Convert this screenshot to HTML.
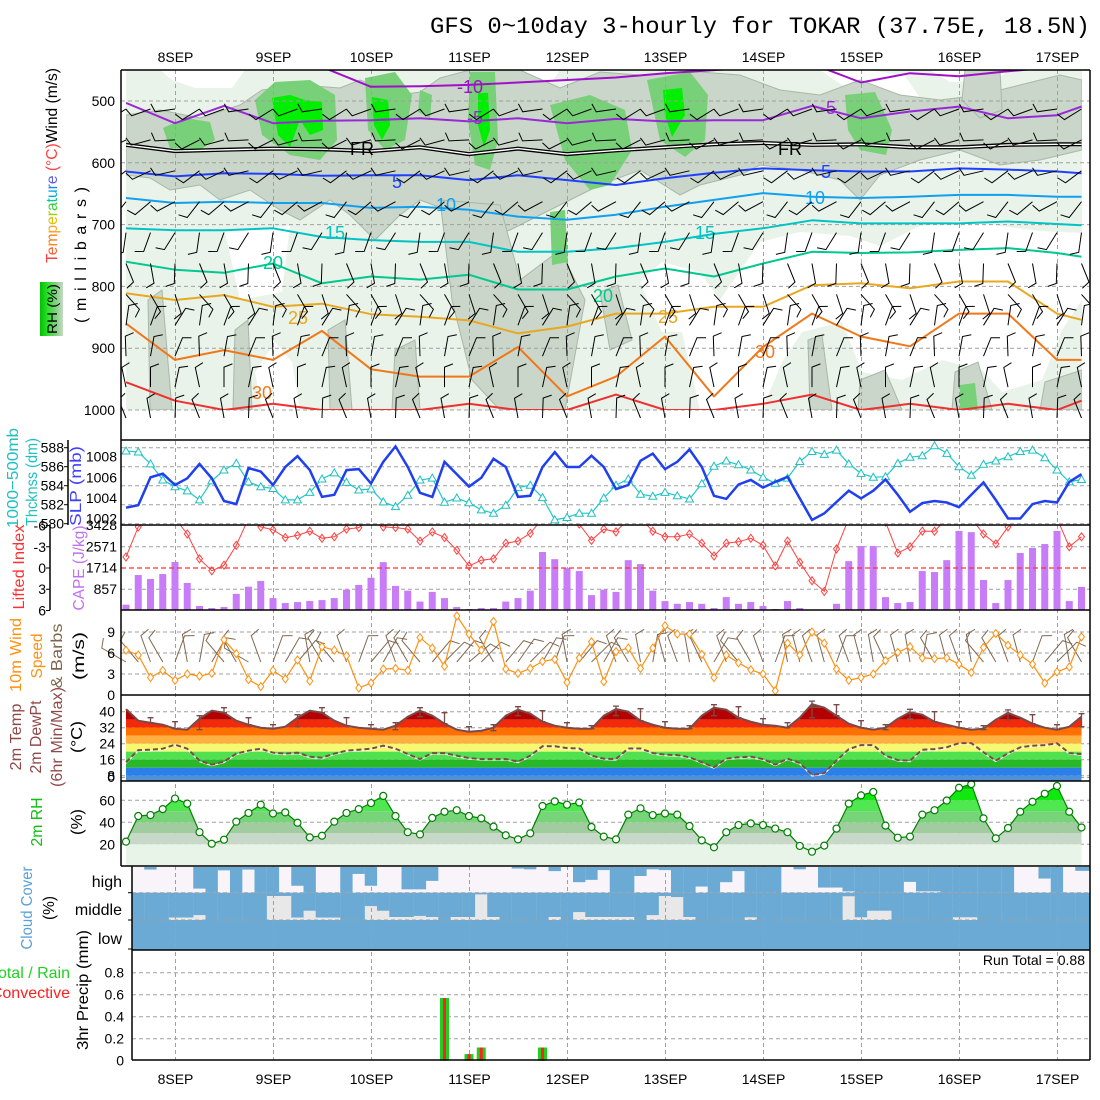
<!DOCTYPE html>
<html><head><meta charset="utf-8">
<style>
body{margin:0;background:#fff}
svg{display:block;font-family:"Liberation Sans",sans-serif}
</style></head>
<body>
<svg id="c" width="1100" height="1100" viewBox="0 0 1100 1100">
<defs>
<clipPath id="clipTop"><rect x="126" y="70" width="956" height="340"/></clipPath>
<clipPath id="clipTopB"><rect x="121" y="70" width="969" height="370"/></clipPath>
<clipPath id="clipLI"><rect x="121" y="525" width="969" height="85"/></clipPath>
<clipPath id="clipTh"><rect x="121" y="440" width="969" height="85"/></clipPath>
<linearGradient id="rhg" x1="0" x2="1" y1="0" y2="0"><stop offset="0" stop-color="#00c000"/><stop offset="0.35" stop-color="#30e030"/><stop offset="0.65" stop-color="#78d078"/><stop offset="1" stop-color="#c8d8c8"/></linearGradient>
</defs>
<rect x="0" y="0" width="1100" height="1100" fill="#fff"/>
<text x="430" y="33" font-family="Liberation Mono, monospace" font-size="23" textLength="660" lengthAdjust="spacingAndGlyphs">GFS 0~10day 3-hourly for TOKAR (37.75E, 18.5N)</text>
<g id="layer"></g>
<g font-size="16">
<text transform="translate(57,165.5) rotate(-90)" text-anchor="middle" textLength="195" lengthAdjust="spacingAndGlyphs"><tspan fill="#ff4040">T</tspan><tspan fill="#ff6030">e</tspan><tspan fill="#ff8020">m</tspan><tspan fill="#ffa020">p</tspan><tspan fill="#e0c000">e</tspan><tspan fill="#a0d000">r</tspan><tspan fill="#40d040">a</tspan><tspan fill="#00c8a0">t</tspan><tspan fill="#00b0e0">u</tspan><tspan fill="#2080f0">r</tspan><tspan fill="#6060f0">e</tspan><tspan fill="#ff4040"> (°C)</tspan><tspan fill="#000">Wind (m/s)</tspan></text>
<text transform="translate(86,255) rotate(-90)" text-anchor="middle" textLength="136" lengthAdjust="spacing">(millibars)</text>
<rect x="40" y="282" width="23" height="54" fill="url(#rhg)"/>
<text transform="translate(57,309) rotate(-90)" text-anchor="middle" font-size="14" textLength="50" lengthAdjust="spacingAndGlyphs">RH (%)</text>
<text transform="translate(18,478) rotate(-90)" text-anchor="middle" fill="#20c0c0" textLength="100" lengthAdjust="spacingAndGlyphs">1000−500mb</text>
<text transform="translate(37,482) rotate(-90)" text-anchor="middle" fill="#20c0c0" textLength="88" lengthAdjust="spacingAndGlyphs">Thcknss (dm)</text>
<text transform="translate(81,486) rotate(-90)" text-anchor="middle" fill="#4040ff" textLength="80" lengthAdjust="spacingAndGlyphs">SLP (mb)</text>
<text transform="translate(24,567) rotate(-90)" text-anchor="middle" fill="#ff3030" textLength="85" lengthAdjust="spacingAndGlyphs">Lifted Index</text>
<text transform="translate(84,568) rotate(-90)" text-anchor="middle" fill="#c070f0" textLength="85" lengthAdjust="spacingAndGlyphs">CAPE (J/kg)</text>
<text transform="translate(21,655) rotate(-90)" text-anchor="middle" fill="#ff9010" textLength="74" lengthAdjust="spacingAndGlyphs">10m Wind</text>
<text transform="translate(42,656) rotate(-90)" text-anchor="middle" fill="#ff9010" textLength="45" lengthAdjust="spacingAndGlyphs">Speed</text>
<text transform="translate(62,656) rotate(-90)" text-anchor="middle" fill="#806850" textLength="65" lengthAdjust="spacingAndGlyphs">&amp; Barbs</text>
<text transform="translate(84,656) rotate(-90)" text-anchor="middle" textLength="48" lengthAdjust="spacingAndGlyphs">(m/s)</text>
<text transform="translate(21,737) rotate(-90)" text-anchor="middle" fill="#904848" textLength="67" lengthAdjust="spacingAndGlyphs">2m Temp</text>
<text transform="translate(41,737) rotate(-90)" text-anchor="middle" fill="#904848" textLength="73" lengthAdjust="spacingAndGlyphs">2m DewPt</text>
<text transform="translate(62,737) rotate(-90)" text-anchor="middle" fill="#904848" textLength="100" lengthAdjust="spacingAndGlyphs">(6hr Min/Max)</text>
<text transform="translate(82,737) rotate(-90)" text-anchor="middle" textLength="32" lengthAdjust="spacingAndGlyphs">(°C)</text>
<text transform="translate(42,822) rotate(-90)" text-anchor="middle" fill="#10c010" textLength="49" lengthAdjust="spacingAndGlyphs">2m RH</text>
<text transform="translate(82,822) rotate(-90)" text-anchor="middle" textLength="26" lengthAdjust="spacingAndGlyphs">(%)</text>
<text transform="translate(32,908) rotate(-90)" text-anchor="middle" fill="#58a0d8" textLength="83" lengthAdjust="spacingAndGlyphs">Cloud Cover</text>
<text transform="translate(54,908) rotate(-90)" text-anchor="middle" textLength="24" lengthAdjust="spacingAndGlyphs">(%)</text>
<text x="122" y="887" text-anchor="end">high</text>
<text x="122" y="915" text-anchor="end">middle</text>
<text x="122" y="944" text-anchor="end">low</text>
<text x="70" y="978" text-anchor="end" fill="#20d020">Total / Rain</text>
<text x="70" y="998" text-anchor="end" fill="#ff2020">Convective</text>
<text transform="translate(88,990) rotate(-90)" text-anchor="middle" textLength="120" lengthAdjust="spacingAndGlyphs">3hr Precip (mm)</text>
<text x="1085" y="965" text-anchor="end" font-size="14">Run Total = 0.88</text>
</g>
</svg>
<script>
// ---------- data ----------
const dayLabels=["8SEP","9SEP","10SEP","11SEP","12SEP","13SEP","14SEP","15SEP","16SEP","17SEP"];
const pressureTicks=[500,600,700,800,900,1000];
const slp=[1003.05,1003.3,1006.0,1006.35,1005.25,1005.9,1007.3,1005.9,1003.7,1003.4,1006.9,1006.55,1005.25,1007.0,1008.05,1006.7,1004.1,1004.3,1006.7,1006.8,1005.4,1007.5,1009.0,
1007.0,1004.5,1004.1,1007.5,1006.3,1005.1,1005.95,1007.8,1007.0,1004.1,1004.2,1007.0,1008.45,1007.0,1007.0,1008.1,1007.0,1004.85,1005.25,1007.6,1008.3,1006.8,1007.5,1008.7,1007.0,1004.2,1003.9,1005.3,
1005.75,1005.0,1005.55,1006.05,1003.95,1001.85,1002.5,1003.6,1004.7,1003.95,1004.7,1005.8,1004.3,1002.65,1003.5,1003.7,1003.55,1003.1,1004.3,1005.5,1003.8,1002.0,1002.0,1003.4,1003.7,1003.55,1005.55,1006.3];
const thickness=[587.65,587.55,586.3,584.6,583.9,583.45,582.5,584.5,585.65,586.35,584.4,583.9,583.7,582.5,582.5,583.3,584.7,585.35,584.35,583.55,583.65,582.3,581.8,
583.0,584.6,584.8,582.25,582.7,582.2,581.45,581.1,581.95,583.8,584.05,582.75,580.4,580.65,581.1,581.1,582.7,584.05,584.7,583.1,582.9,583.3,582.95,582.6,584.2,586.05,586.6,586.2,
585.65,584.9,584.25,584.8,586.55,587.6,587.3,587.75,586.3,585.3,584.9,584.95,586.35,587.0,587.15,588.2,587.4,586.0,585.1,586.25,586.6,587.05,587.6,587.75,586.95,585.65,584.4,584.65];
const thickTicks=[588,586,584,582,580];
const slpTicks=[1008,1006,1004,1002];
const liftedIndex=[-1.55,-5.8,-7,-7,-7,-4.8,-1.3,0.4,-0.4,-3.2,-7,-5.8,-5.4,-4.3,-4.6,-5.2,-4.2,-4.4,-5.5,-5.7,-7,-5.8,-5.7,
-5.5,-3.8,-5.1,-4.3,-2.5,-0.3,-1.1,-1.3,-3.5,-3.8,-4.9,-7,-7,-7,-6.2,-3.9,-5.5,-5.1,-7,-7,-5.2,-4.4,-4.4,-4.8,-3.5,-1.7,-3.5,-3.7,
-4.2,-3.2,-0.3,-3.8,-0.8,1.8,3.3,-2.7,-7,-7,-7,-6.5,-2.1,-3.0,-5.2,-5.2,-7,-7,-7,-4.8,-3.4,-5.8,-7,-7,-7,-7,-3.0,-4.4];
const cape=[215,1410,1250,1450,1935,1090,160,80,120,650,940,1170,480,280,320,360,400,480,820,1010,1300,1930,970,780,340,730,480,120,40,80,80,340,480,780,2340,2050,1690,1570,600,820,730,2010,1850,780,360,250,320,250,80,520,250,320,160,40,360,80,0,0,250,1970,2580,2580,520,280,320,1570,1530,2010,3190,3140,1210,280,1210,2300,2500,2660,3190,360,930];
const liTicks=[-6,-3,0,3,6];
const capeTicks=["3428","2571","1714","857"];
const windSpeed=[6.4,5.7,2.5,3.5,2.1,3.0,2.7,3.1,7.9,5.9,2.2,1.2,3.5,2.3,5.0,2.0,6.9,6.4,5.6,1.0,1.7,3.7,3.8,
3.5,8.2,6.7,4.1,11.3,8.7,6.4,10.5,3.7,3.1,3.8,4.8,5.1,1.8,5.3,7.6,1.9,6.2,6.7,3.8,6.7,9.9,8.7,8.7,5.8,2.5,5.7,4.6,
3.6,3.0,0.6,7.4,5.7,9.0,7.4,3.7,2.1,2.5,3.0,4.9,6.1,6.9,5.3,5.2,5.3,4.4,3.2,6.8,8.8,7.1,5.7,4.4,1.7,3.3,4.0,8.3];
const windDir10=[300,320,340,330,20,350,10,30,320,330,300,340,20,30,40,350,330,320,340,20,40,30,340,330,320,40,45,40,50,45,330,40,35,45,30,20,350,40,45,30,340,330,350,10,345,340,350,335,30,340,320,330,340,20,350,345,340,345,20,340,345,350,335,345,350,10,330,345,340,350,320,330,340,345,20,40,45,350,330];
const windTicks=[0,3,6,9];
const temp2m=[41.3,35.5,34.5,33.5,31.5,31,36.5,40.5,39.5,35.5,33.5,32,31.5,32.5,37,40.5,39.5,35.5,33,32,31.5,31,33,37.5,40.5,38,34,31,30,30.5,32,38,41,39,35,33,32,31.5,31.5,38,41.3,40,35.5,33.5,32,31.5,31.5,38,42,41,37,35,33.5,33,32,37,43.8,42,38,34,32,31,32,36.5,39.7,38.5,35,33.5,32,31,31.5,36,39.4,37,34,32,31,32.5,37.5];
const dew2m=[14.7,20.8,21,21.5,23.5,21.5,15.5,13.5,15,19,20.5,21.5,19.5,19,19.5,17.5,17,19,20.5,21,21.5,23,21.5,
18.8,16.3,19.3,19.3,18,16.8,16.3,16.3,16.3,15,18,22.7,22.7,21.8,21.6,18,16.5,16.3,21.6,21.6,19.3,18.5,18.3,17.2,14.7,12.2,16.5,17.2,
17.5,16.3,13.5,16.5,14.3,8.3,9.3,15.5,21.3,23.3,23.3,18,15.8,15.5,21,21.3,22.2,24.3,24.3,19.7,15.5,19.2,22.2,23,23.3,24.2,19.3,18.8];
const tempTicks=[40,32,24,16,8];
const rh2m=[22.4,45.7,46.6,52,61.6,57,31,20.5,24.2,40.6,48.5,56,48,49,39.6,26.3,27.8,40.6,48.5,52,57.5,64,45.7,
31,29,44,49.6,51,45.7,43.6,36,28.2,24.5,30,54.8,59,56,58,35.7,27,24.5,47,52.7,46.6,48,47,36.6,23.6,17.3,31,37.5,
39,37.5,34.3,31,18.5,13.3,18.8,34.3,57,64.5,67.6,37,26,27,47,51,59.8,71.4,74.7,43.6,25.4,34.8,49.6,58.7,66,73,49.6,35.3];
const rhTicks=[20,40,60];
const cloudHigh=[0,0.1,0,0,0,0.84,1,0.13,1,0.1,1,1,0,0.73,1,0,0,1,0.27,0.73,0,
0,0.87,0.87,0.54,0,0,0,0,0,0,0.06,0.09,0,0.16,0,0.59,0.5,0.12,1,1,0.35,0.09,0.12,1,1,0.76,1,0.59,0.16,
1,1,1,0,0.09,0,0.8,0.8,0.95,1,1,1,1,0.58,0.95,0.95,1,1,1,1,1,1,0,0,0.45,1,0,0.15,0.15];
const cloudMid=[1,1,1,0.91,0.91,0.82,1,1,1,1,1,0.12,0.12,0.91,0.66,0.91,0.91,1,1,0.49,0.66,
0.89,0.89,0.85,0.89,1,0.89,0.89,0.06,0.89,1,1,1,1,0.89,1,0.71,0.89,0.89,0.89,0.89,1,0.82,0.12,0.16,0.89,1,1,1,1,
0.9,1,1,1,1,1,1,1,0.13,0.9,0.66,0.66,1,1,1,1,1,0.9,0.9,1,1,1,1,1,1,1,1,1,1];
const precipIdx=[26,28,29,34];
const precipTotal=[0.57,0.06,0.12,0.12];
const precipConv=[0.57,0.06,0.12,0.12];
const precipTicks=[0,0.2,0.4,0.6,0.8];
const isoCtrlIdx=[0,4,8,12,16,20,24,28,32,36,40,44,48,52,56,60,64,68,72,76,78];
const isoM10=[440,440,440,440,445,477,476,474,470,466,462,455,450,445,440,470,455,460,452,445,445];
const isoM5=[503,536,508,536,532,531,528,533,528,536,529,533,531,531,508,528,517,509,528,523,509];
const isoFR=[571,581,579,577,578,581,575,586,577,586,580,575,570,568,571,570,575,575,571,570,570];
const iso5=[614,622,617,618,621,620,620,628,620,628,636,625,616,609,612,614,614,609,611,614,617];
const iso10=[657,665,663,665,665,673,671,676,687,692,684,671,660,649,655,657,655,652,652,655,655];
const iso15=[706,709,709,706,720,725,728,728,744,744,738,728,715,706,693,698,698,698,695,699,701];
const iso20=[760,773,778,763,795,784,789,781,805,805,784,771,784,763,744,746,745,741,738,746,752];
const iso25=[811,822,814,833,828,845,849,855,876,865,844,844,833,833,798,795,803,792,792,844,854];
const iso30=[860,919,903,919,872,934,946,946,898,978,946,881,978,898,844,881,897,844,844,919,919];
const iso35=[955,985,1000,990,1000,1000,1000,990,1000,1000,975,1000,1000,990,975,1000,990,1000,990,1000,985];
const barbLevels=[500,550,600,650,700,750,800,850,900,950,1000];
const barbDirs=[250,255,245,230,200,170,150,20,10,0,350];

// ---------- axes ----------
const X=i=>126+12.25*i;
const dayX=d=>175.5+98*d;
const yP=p=>101+(p-500)*0.618;
const yTh=t=>447.7-(t-588)*9.5;
const ySLP=p=>456.7-(p-1008)*10.3;
const yLI=v=>568+v*7.08;
const yCAPE=c=>610-c/40.33;
const yW=v=>695-7*v;
const yT=t=>791.7-2*t;
const yRH=r=>866.3-1.1*r;
const yPr=v=>1060.7-110*v;
const NS='http://www.w3.org/2000/svg';
const L=document.getElementById('layer');
function mk(tag,attrs,parent){const e=document.createElementNS(NS,tag);for(const k in attrs)e.setAttribute(k,attrs[k]);(parent||L).appendChild(e);return e;}
function pts(arr){return arr.map(p=>p[0].toFixed(1)+','+p[1].toFixed(1)).join(' ');}
const N=slp.length;

// ---------- top cross-section fills ----------
const gTop=mk('g',{'clip-path':'url(#clipTop)'});


let e=mk('rect',{x:126,y:70,width:956,height:340,fill:'#e9f3e9'},gTop);


const whiteShapes=[
[[160,70],[245,70],[232,88],[195,88],[172,80]],
[[225,232],[290,226],[282,292],[240,300]],
[[640,282],[662,262],[700,272],[720,300],[760,242],[800,232],[850,236],[880,246],[920,226],[960,221],[1000,226],[1040,231],[1082,233],[1082,300],[1062,330],[1042,380],[1002,392],[982,370],[942,360],[902,380],[862,372],[842,322],[802,332],[782,362],[762,410],[700,410],[682,332],[662,332]],
[[820,70],[870,70],[905,76],[920,98],[880,95],[842,85]],
[[930,70],[1010,70],[995,80],[950,82]],
[[255,372],[275,342],[292,362],[300,410],[262,410]],
[[520,70],[560,70],[552,82],[528,80]]];
whiteShapes.forEach(s=>{const p=mk('polygon',{points:pts(s),fill:'#ffffff'},gTop);

});
const grayShapes=[
[[126,115],[160,110],[200,118],[240,105],[262,90],[300,85],[340,88],[360,80],[400,95],[420,92],[440,78],[470,70],[520,70],[560,88],[600,72],[640,75],[700,72],[740,75],[780,90],[820,95],[860,80],[900,95],[940,100],[980,95],[1020,85],[1060,75],[1082,80],[1082,150],[1040,160],[1000,165],[960,150],[920,160],[880,175],[860,200],[840,180],[800,170],[760,165],[740,175],[700,185],[680,195],[640,170],[600,185],[570,200],[540,215],[510,230],[480,240],[460,215],[420,200],[400,215],[375,240],[350,215],[330,200],[300,220],[280,210],[250,190],[220,200],[200,185],[170,190],[150,178],[126,175]],
[[440,200],[500,205],[520,280],[560,250],[585,300],[565,410],[500,410],[472,380],[452,300]],
[[148,300],[162,290],[172,410],[150,410]],[[235,330],[248,320],[252,410],[233,410]],
[[328,330],[345,320],[352,410],[330,410]],[[395,350],[415,340],[420,410],[392,410]],
[[600,292],[618,285],[632,340],[610,350]],[[808,340],[822,335],[832,410],[810,410]],
[[860,380],[885,370],[902,410],[858,410]],[[955,372],[978,362],[992,410],[952,410]],
[[1045,382],[1082,370],[1082,410],[1040,410]],[[965,70],[1000,70],[1002,110],[980,118],[962,100]]];
grayShapes.forEach(s=>{const p=mk('polygon',{points:pts(s),fill:'#c9d6c9',stroke:'#a8b8a8','stroke-width':1},gTop);

});
const greenShapes=[
[[163,128],[185,118],[210,122],[215,140],[200,150],[170,148]],
[[255,100],[275,82],[310,80],[335,95],[337,140],[320,160],[290,155],[262,135]],
[[365,78],[395,72],[412,95],[405,140],[385,150],[368,130]],
[[470,72],[495,72],[498,140],[490,170],[475,165],[468,120]],
[[550,105],[590,95],[625,110],[632,150],[610,185],[590,190],[565,160]],
[[550,212],[565,210],[568,262],[552,265]],
[[647,80],[690,72],[708,95],[705,140],[685,157],[660,140]],
[[845,95],[875,92],[892,130],[886,155],[860,150],[848,130]],
[[960,385],[975,383],[978,410],[960,410]],
[[420,90],[432,95],[430,118],[418,112]]];
greenShapes.forEach(s=>{const p=mk('polygon',{points:pts(s),fill:'#78d078'},gTop);

});
const brightShapes=[
[[272,98],[290,95],[305,100],[322,102],[323,130],[310,135],[300,120],[290,147],[278,135]],
[[372,97],[388,100],[390,125],[382,140],[374,125]],
[[478,93],[488,93],[490,130],[484,147],[478,125]],
[[663,90],[682,88],[685,115],[672,137],[665,115]]];
brightShapes.forEach(s=>{const p=mk('polygon',{points:pts(s),fill:'#00ee00'},gTop);

});

// ---------- grid ----------
const gGrid=mk('g',{stroke:'#a0a0a0','stroke-width':1,'stroke-dasharray':'4,3',fill:'none'});


dayLabels.forEach((d,k)=>{const l=mk('line',{x1:dayX(k),x2:dayX(k),y1:70,y2:1060},gGrid);

});
const hLines=[];
pressureTicks.forEach(p=>hLines.push([121,yP(p)]));
thickTicks.forEach(t=>hLines.push([121,yTh(t)]));
[-3,3].forEach(v=>hLines.push([121,yLI(v)]));
[3,6,9].forEach(v=>hLines.push([121,yW(v)]));
tempTicks.forEach(v=>hLines.push([121,yT(v)]));
hLines.push([121,777.5]);
rhTicks.forEach(v=>hLines.push([121,yRH(v)]));
[892.7,920].forEach(v=>hLines.push([132,v]));
precipTicks.slice(1).forEach(v=>hLines.push([132,yPr(v)]));
hLines.forEach(h=>{const l=mk('line',{x1:h[0],x2:1090,y1:h[1],y2:h[1]},gGrid);

});

// ---------- isotherms ----------
const gIso=mk('g',{'clip-path':'url(#clipTop)',fill:'none','stroke-linejoin':'round'});


const isoSet=[[isoM10,'#a010c8','isotherm-minus10'],[isoM5,'#9a28d8','isotherm-minus5'],[iso5,'#2040ff','isotherm-5'],[iso10,'#10a0f0','isotherm-10'],[iso15,'#00c4c4','isotherm-15'],[iso20,'#00c890','isotherm-20'],[iso25,'#e8a820','isotherm-25'],[iso30,'#f07818','isotherm-30'],[iso35,'#f03030','isotherm-35']];
isoSet.forEach(s=>{const pl=mk('polyline',{points:pts(s[0].map((p,j)=>[X(isoCtrlIdx[j]),yP(p)])),stroke:s[1],'stroke-width':2},gIso);

});
const frPts=pts(isoFR.map((p,j)=>[X(isoCtrlIdx[j]),yP(p)]));
e=mk('polyline',{points:frPts,stroke:'#000','stroke-width':4},gIso);


e=mk('polyline',{points:frPts,stroke:'#fff','stroke-width':1.4},gIso);


const isoLabels=[["-10",470,93,'#a010c8'],["-5",475,124,'#9a28d8'],["-5",828,114,'#9a28d8'],["FR",362,155,'#000'],["FR",790,155,'#000'],["5",397,188,'#2040ff'],["5",826,178,'#2040ff'],["10",446,211,'#10a0f0'],["10",815,204,'#10a0f0'],["15",335,239,'#00c4c4'],["15",705,239,'#00c4c4'],["20",273,269,'#00c890'],["20",603,302,'#00c890'],["25",298,324,'#e8a820'],["25",668,323,'#e8a820'],["30",262,399,'#f07818'],["30",765,358,'#f07818']];
isoLabels.forEach(t=>{const tx=mk('text',{x:t[1],y:t[2],fill:t[3],'font-size':18,'text-anchor':'middle'},gIso);
tx.textContent=t[0];

});

// ---------- upper-air barbs ----------
const gBarb=mk('g',{stroke:'#000','stroke-width':1,fill:'none','clip-path':'url(#clipTopB)'});


function barb(g,x,y,deg,len,fl){const r=deg*Math.PI/180;const ex=x+Math.sin(r)*len,ey=y-Math.cos(r)*len;const r2=r+Math.PI/2.6;const fx=ex+Math.sin(r2)*fl,fy=ey-Math.cos(r2)*fl;return mk('polyline',{points:pts([[x,y],[ex,ey],[fx,fy]])},g);}
for(let i=0;i<N;i+=2){barbLevels.forEach((lv,k)=>{const b=barb(gBarb,X(i),yP(lv)+8,barbDirs[k]+((i/2)%3-1)*12,20,9);

});}

// ---------- thickness / SLP ----------
const gTh=mk('g',{'clip-path':'url(#clipTh)'});


e=mk('polyline',{points:pts(thickness.map((v,i)=>[X(i),yTh(v)])),fill:'none',stroke:'#20c8c8','stroke-width':1.2},gTh);


thickness.forEach((v,i)=>{const x=X(i),y=yTh(v);const m=mk('polygon',{points:pts([[x,y-4],[x-4,y+3],[x+4,y+3]]),fill:'#fff',stroke:'#20c0c0','stroke-width':1},gTh);

});
e=mk('polyline',{points:pts(slp.map((v,i)=>[X(i),ySLP(v)])),fill:'none',stroke:'#2040f0','stroke-width':2.5},gTh);



// ---------- LI / CAPE ----------
const gLI=mk('g',{'clip-path':'url(#clipLI)'});


cape.forEach((c,i)=>{if(c<=0)return;const r=mk('rect',{x:X(i)-3.5,y:yCAPE(c),width:7,height:610-yCAPE(c),fill:'#c87cf8'},gLI);

});
e=mk('line',{x1:121,x2:1090,y1:yLI(0),y2:yLI(0),stroke:'#ff3030','stroke-width':1.3,'stroke-dasharray':'5,3'},gLI);


e=mk('polyline',{points:pts(liftedIndex.map((v,i)=>[X(i),yLI(v)])),fill:'none',stroke:'#ff4040','stroke-width':1},gLI);


liftedIndex.forEach((v,i)=>{const x=X(i),y=yLI(v);const m=mk('polygon',{points:pts([[x,y-4],[x+3,y],[x,y+4],[x-3,y]]),fill:'none',stroke:'#ff4040','stroke-width':1},gLI);

});

// ---------- 10m wind ----------
const gW=mk('g',{});


windDir10.forEach((d,i)=>{const b=barb(gW,X(i),662,d,28,10);b.setAttribute('stroke','#806850');b.setAttribute('fill','none');

});
e=mk('polyline',{points:pts(windSpeed.map((v,i)=>[X(i),yW(v)])),fill:'none',stroke:'#ff9010','stroke-width':1.2},gW);


windSpeed.forEach((v,i)=>{const x=X(i),y=yW(v);const m=mk('polygon',{points:pts([[x,y-4],[x+3,y],[x,y+4],[x-3,y]]),fill:'#fff',stroke:'#ff9010','stroke-width':1},gW);

});

// ---------- 2m temp ----------
const tArea=[[X(0),781]].concat(temp2m.map((v,i)=>[X(i),yT(v)])).concat([[X(N-1),781]]);
const cpT=mk('clipPath',{id:'clipTemp'});
mk('polygon',{points:pts(tArea)},cpT);
const gT=mk('g',{'clip-path':'url(#clipTemp)'});


const tBands=[[99,42,'#7a4038'],[42,36,'#b40000'],[36,32,'#f02a0a'],[32,28,'#ff7000'],[28,24,'#ffb040'],[24,20,'#f5f870'],[20,16,'#50e050'],[16,12,'#28b828'],[12,8,'#2a80e8'],[8,-20,'#5090d8']];
tBands.forEach(b=>{const y1=Math.max(yT(b[0]),690),y2=Math.min(yT(b[1]),781);const r=mk('rect',{x:126,y:y1,width:960,height:y2-y1,fill:b[2]},gT);

});
e=mk('polyline',{points:pts(temp2m.map((v,i)=>[X(i),yT(v)])),fill:'none',stroke:'#7a4a48','stroke-width':2});


e=mk('polyline',{points:pts(dew2m.map((v,i)=>[X(i),yT(v)+1])),fill:'none',stroke:'#fff','stroke-width':1});


e=mk('polyline',{points:pts(dew2m.map((v,i)=>[X(i),yT(v)])),fill:'none',stroke:'#7a4a48','stroke-width':2,'stroke-dasharray':'5,3'});


for(let i=2;i<N;i+=2){const hi=Math.max(temp2m[i],temp2m[i-1])+1.5,lo=Math.min(temp2m[i],temp2m[i-1]);const x=X(i);
const g=mk('path',{d:`M${x},${yT(hi)}V${yT(lo)}M${x-3},${yT(hi)}h6M${x-3},${yT(lo)}h6`,stroke:'#7a4a48','stroke-width':1.3,fill:'none'});

}

// ---------- 2m RH ----------
e=mk('rect',{x:126,y:yRH(20),width:X(N-1)-126,height:866-yRH(20),fill:'#e8f4e8'});


const rArea=[[X(0),866]].concat(rh2m.map((v,i)=>[X(i),yRH(v)])).concat([[X(N-1),866]]);
const cpR=mk('clipPath',{id:'clipRH'});
mk('polygon',{points:pts(rArea)},cpR);
const gR=mk('g',{'clip-path':'url(#clipRH)'});


const rBands=[[100,70,'#00c800'],[70,60,'#10e810'],[60,50,'#50e850'],[50,40,'#78d478'],[40,30,'#a0cca0'],[30,20,'#c8d8c8'],[20,0,'#e8f4e8']];
rBands.forEach(b=>{const y1=Math.max(yRH(b[0]),781),y2=yRH(b[1]);const r=mk('rect',{x:126,y:y1,width:960,height:y2-y1,fill:b[2]},gR);

});
e=mk('polyline',{points:pts(rh2m.map((v,i)=>[X(i),yRH(v)])),fill:'none',stroke:'#008000','stroke-width':1.2});


rh2m.forEach((v,i)=>{const c=mk('circle',{cx:X(i),cy:yRH(v),r:3.5,fill:'#fff',stroke:'#008000','stroke-width':1.2});

});

// ---------- cloud ----------
const gC=mk('g',{});


e=mk('rect',{x:132,y:867,width:958,height:25.7,fill:'#f8f4fa'},gC);


e=mk('rect',{x:132,y:892.7,width:958,height:27.3,fill:'#e8e8e8'},gC);


e=mk('rect',{x:132,y:920,width:958,height:30,fill:'#6aaad4'},gC);


cloudHigh.forEach((f,k)=>{if(f<=0)return;const x=132+12.25*k;const w=Math.min(12.35,1090-x);if(w<=0)return;const r=mk('rect',{x:x,y:867,width:w,height:25.7*f,fill:'#6aaad4'},gC);

});
cloudMid.forEach((f,k)=>{if(f<=0)return;const x=132+12.25*k;const w=Math.min(12.35,1090-x);if(w<=0)return;const r=mk('rect',{x:x,y:892.7,width:w,height:27.3*f,fill:'#6aaad4'},gC);

});
[892.7,920].forEach(y=>{const l=mk('line',{x1:132,x2:1090,y1:y,y2:y,stroke:'#a0a0a0','stroke-dasharray':'4,3'},gC);

});
dayLabels.forEach((d,k)=>{const l=mk('line',{x1:dayX(k),x2:dayX(k),y1:866,y2:950,stroke:'#a0a0a0','stroke-dasharray':'4,3'},gC);

});

// ---------- precip ----------
precipIdx.forEach((idx,j)=>{const x=X(idx);
const r=mk('rect',{x:x-4.5,y:yPr(precipTotal[j]),width:9,height:1060.7-yPr(precipTotal[j]),fill:'#20d020'});


const c=mk('rect',{x:x-1.5,y:yPr(precipConv[j]),width:3,height:1060.7-yPr(precipConv[j]),fill:'#ff2020'});

});

// ---------- frames ----------
const gF=mk('g',{stroke:'#000','stroke-width':1.5,fill:'none'});


const frameLines=[[121,70,1090,70],[121,70,121,866],[1090,70,1090,1060],[121,440,1090,440],[121,525,1090,525],[121,610,1090,610],[121,695,1090,695],[121,781,1090,781],[121,866,1090,866],[132,950,1090,950],[132,866,132,1060],[132,1060,1090,1060],[68,440,68,525],[50,525,50,610]];
frameLines.forEach(f=>{const l=mk('line',{x1:f[0],y1:f[1],x2:f[2],y2:f[3]},gF);

});

// ---------- tick labels ----------
const gTx=mk('g',{'font-size':14,fill:'#000'});


function lab(t,x,y,anchor){const e=mk('text',{x:x,y:y,'text-anchor':anchor||'end'},gTx);e.textContent=t;return e;}
function tick(x,y,len){return mk('line',{x1:x-len,x2:x,y1:y,y2:y,stroke:'#000','stroke-width':1},gTx);}
dayLabels.forEach((d,k)=>{let t=lab(d,dayX(k),62,'middle');


t=lab(d,dayX(k),1084,'middle');

});
pressureTicks.forEach(p=>{const t=lab(String(p),115,yP(p)+5);

});
thickTicks.forEach(v=>{const t=lab(String(v),64,yTh(v)+5);


const k=tick(68,yTh(v),4);

});
slpTicks.forEach(v=>{const t=lab(String(v),117,ySLP(v)+5);

});
liTicks.forEach(v=>{const t=lab(String(v),46,yLI(v)+5);


const k=tick(50,yLI(v),4);

});
capeTicks.forEach(v=>{const t=lab(v,117,yCAPE(+v)+5);

});
windTicks.forEach(v=>{const t=lab(String(v),115,yW(v)+5);

});
tempTicks.forEach(v=>{const t=lab(String(v),115,yT(v)+5);

});
e=lab('0',115,782);


rhTicks.forEach(v=>{const t=lab(String(v),115,yRH(v)+5);

});
precipTicks.forEach(v=>{const t=lab(v===0?'0':v.toFixed(1),124,yPr(v)+5);

});
[892.7,920,949].forEach(y=>{const k=tick(132,y,4);

});
</script>
</body></html>
